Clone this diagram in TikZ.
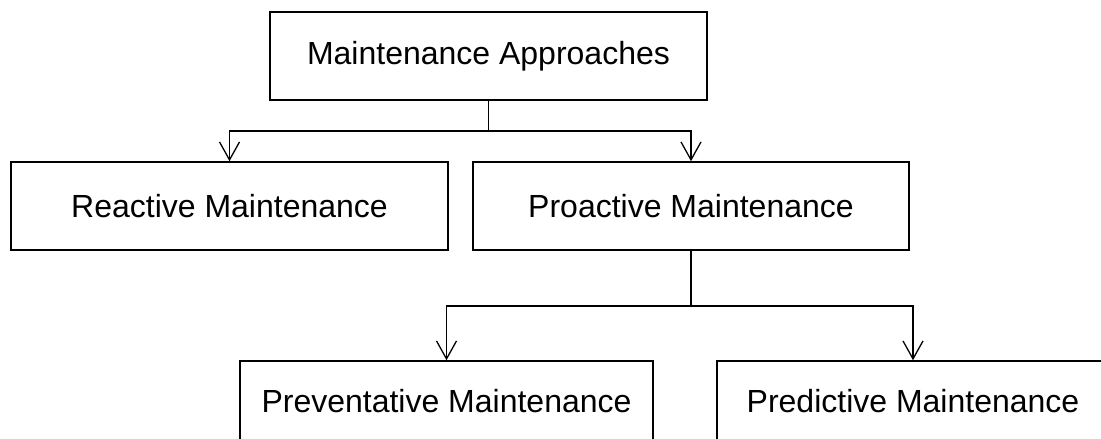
\documentclass[tikz,border=0pt]{standalone}
\usepackage{fontspec}
\setmainfont{Liberation Sans}
\usetikzlibrary{arrows.meta}

\begin{document}
\begin{tikzpicture}[x=1bp, y=-1bp,
    box/.style={draw=black, line width=1.5bp, fill=white, inner sep=0pt,
      minimum height=88bp, font=\fontsize{32bp}{38bp}\selectfont},
    link/.style={draw=black, line width=1.5bp},
    arr/.style={link, -{Straight Barb[length=18bp, width=20bp, line width=1.3bp]}}]

  % page frame: everything beyond it is cut off
  \path[use as bounding box, clip] (0,0) rectangle (1101,439);
  \fill[white] (0,0) rectangle (1101,439);

  % boxes
  \node[box, minimum width=437bp] (top)   at (488.5,56)  {Maintenance Approaches};
  \node[box, minimum width=437bp] (react) at (229.5,206) {Reactive Maintenance};
  \node[box, minimum width=436bp] (proact) at (691,206)  {Proactive Maintenance};
  \node[box, minimum width=413bp, minimum height=80bp] (prevent) at (446.5,401) {Preventative Maintenance};
  \node[box, minimum width=392bp, minimum height=80bp] (predict) at (913,401)   {Predictive Maintenance};

  % branch points
  \coordinate (j1) at (top.south |- 0,131);
  \coordinate (j2) at (proact.south |- 0,306);

  % connectors
  \draw[link] (top.south) -- (j1);
  \draw[arr] (j1) -| (react.north);
  \draw[arr] (j1) -| (proact.north);

  \draw[link] (proact.south) -- (j2);
  \draw[arr] (j2) -| (prevent.north);
  \draw[arr] (j2) -| (predict.north);
\end{tikzpicture}
\end{document}
